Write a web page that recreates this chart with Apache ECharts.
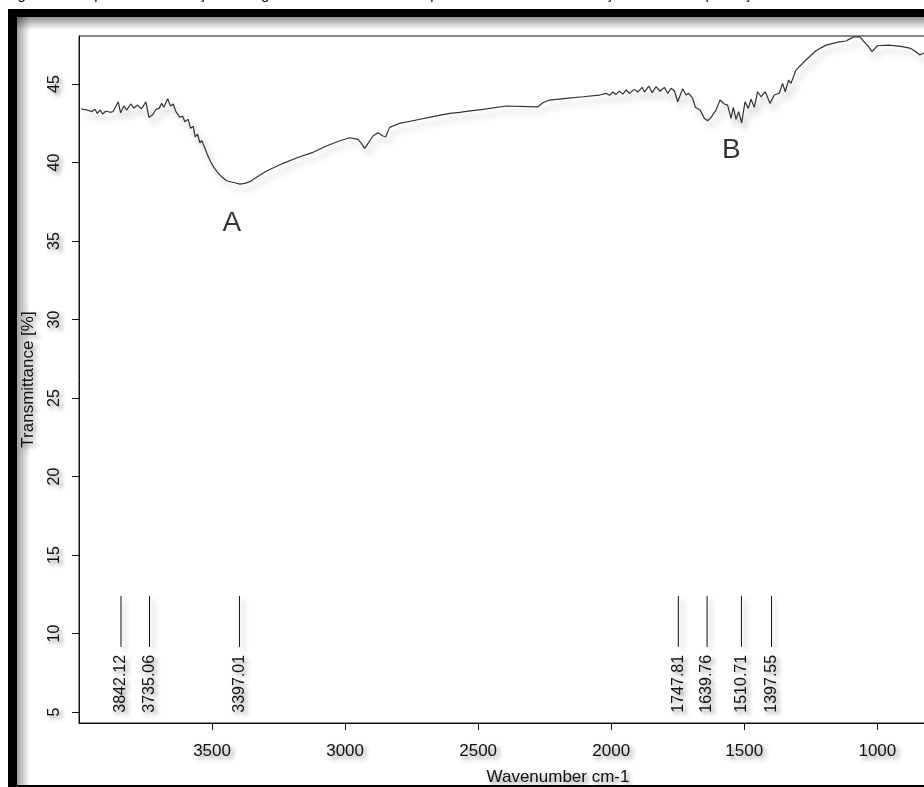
<!DOCTYPE html>
<html>
<head>
<meta charset="utf-8">
<script src="https://cdn.jsdelivr.net/npm/echarts@6/dist/echarts.min.js"></script>
<style>
  html, body { margin: 0; padding: 0; background: #fff; }
  #chart { width: 924px; height: 787px; }
</style>
</head>
<body>
<div id="chart"></div>
<script>
// FTIR spectrum: wavenumber (cm-1) vs transmittance (%)
const wavenumber = [
  3992.5, 3971.1, 3952.3, 3939.9, 3931.3, 3921.2, 3911.0, 3898.6, 3883.6, 3872.4,
  3852.5, 3843.5, 3831.1, 3820.9, 3805.9, 3793.5, 3781.1, 3764.6, 3748.5, 3737.2,
  3723.3, 3710.9, 3698.6, 3689.5, 3680.9, 3667.0, 3655.8, 3646.0, 3635.9, 3620.8,
  3610.7, 3602.1, 3589.7, 3580.7, 3570.9, 3563.4, 3554.4, 3545.8, 3538.3, 3528.1,
  3518.4, 3505.6, 3493.2, 3480.8, 3464.3, 3445.5, 3426.8, 3414.4, 3395.6, 3376.8,
  3358.1, 3332.9, 3295.4, 3233.1, 3170.4, 3120.4, 3070.1, 3020.2, 2982.7, 2951.5,
  2938.7, 2926.4, 2913.9, 2895.2, 2876.4, 2857.6, 2847.5, 2832.5, 2795.0, 2732.2,
  2670.0, 2607.2, 2569.7, 2544.6, 2482.2, 2394.4, 2275.8, 2257.0, 2231.9, 2169.2,
  2106.9, 2044.1, 2019.0, 2006.6, 1994.2, 1981.5, 1969.1, 1956.7, 1943.9, 1931.5,
  1912.8, 1900.4, 1883.9, 1875.2, 1859.1, 1846.3, 1831.3, 1816.3, 1800.2, 1787.8,
  1775.0, 1762.6, 1750.2, 1731.5, 1718.7, 1708.9, 1693.9, 1683.8, 1666.1, 1650.0,
  1637.6, 1624.8, 1606.1, 1591.1, 1574.9, 1562.5, 1549.8, 1541.1, 1531.0, 1521.2,
  1510.0, 1497.2, 1484.8, 1474.7, 1462.3, 1449.9, 1437.1, 1421.0, 1403.4, 1387.2,
  1368.4, 1356.1, 1345.9, 1333.5, 1324.5, 1305.8, 1268.2, 1230.7, 1193.1, 1143.2,
  1118.1, 1099.3, 1086.9, 1065.5, 1049.4, 1033.2, 1020.5, 999.4, 955.5, 905.6,
  874.0, 855.3, 840.2, 827.8, 805.0
];
const transmittance = [
  43.41, 43.36, 43.24, 43.39, 43.13, 43.34, 43.09, 43.28, 43.20, 43.24,
  43.87, 43.17, 43.60, 43.34, 43.73, 43.47, 43.66, 43.43, 43.87, 42.88,
  43.03, 43.39, 43.45, 43.77, 43.52, 44.06, 43.60, 43.73, 43.24, 42.88,
  42.96, 42.60, 42.75, 42.18, 42.32, 41.64, 41.80, 41.26, 41.39, 40.97,
  40.54, 40.05, 39.69, 39.41, 39.09, 38.84, 38.76, 38.71, 38.63, 38.67,
  38.78, 39.06, 39.46, 39.95, 40.37, 40.65, 41.05, 41.39, 41.58, 41.48,
  41.22, 40.90, 41.22, 41.69, 41.90, 41.69, 41.64, 42.24, 42.50, 42.71,
  42.92, 43.13, 43.20, 43.26, 43.39, 43.60, 43.55, 43.81, 43.98, 44.09,
  44.19, 44.30, 44.41, 44.28, 44.49, 44.34, 44.55, 44.36, 44.62, 44.41,
  44.66, 44.49, 44.79, 44.49, 44.87, 44.45, 44.83, 44.54, 44.79, 44.41,
  44.73, 44.57, 43.87, 44.70, 44.30, 44.41, 44.09, 43.52, 43.34, 42.82,
  42.66, 42.88, 43.34, 43.98, 43.73, 43.66, 42.82, 43.52, 42.75, 43.24,
  42.53, 43.87, 43.45, 44.03, 43.52, 44.51, 44.19, 44.51, 43.77, 44.30,
  44.41, 45.04, 44.51, 45.25, 45.04, 45.89, 46.53, 47.12, 47.48, 47.69,
  47.74, 47.91, 48.01, 48.01, 47.69, 47.38, 47.06, 47.44, 47.48, 47.38,
  47.27, 47.06, 46.85, 46.96, 46.97
];

// Picked peak positions
const peakWavenumbers = [3842.12, 3735.06, 3397.01, 1747.81, 1639.76, 1510.71, 1397.55];
const peakLabels = ['3842.12', '3735.06', '3397.01', '1747.81', '1639.76', '1510.71', '1397.55'];

// Band annotations
const bandNames = ['A', 'B'];
const bandWavenumbers = [3426, 1549];
const bandTransmittance = [36.1, 40.8];

// Axis ticks
const xTicks = [3500, 3000, 2500, 2000, 1500, 1000, 500];
const yTicks = [5, 10, 15, 20, 25, 30, 35, 40, 45];

const X_MIN = 400, X_MAX = 4000;
const Y_MIN = 4.3, Y_MAX = 48.06;
const MARK_TOP = 12.4, MARK_BOTTOM = 9.15;

const FONT = '"Liberation Sans", Arial, sans-serif';
const shadowText = {
  textShadowColor: 'rgba(0,0,0,0.45)',
  textShadowBlur: 4,
  textShadowOffsetX: 3,
  textShadowOffsetY: 3
};

const chart = echarts.init(document.getElementById('chart'), null, { renderer: 'canvas' });

const spectrum = wavenumber.map((w, i) => [w, transmittance[i]]);

chart.setOption({
  animation: false,
  backgroundColor: '#fff',
  grid: {
    left: 79, top: 36, bottom: 64, width: 958,
    containLabel: false,
    outerBoundsMode: 'none',
    show: true,
    borderColor: '#111',
    borderWidth: 1,
    backgroundColor: 'transparent'
  },
  graphic: [
    // caption above the framed panel
    {
      type: 'text', x: 5, y: 2, z: -1,
      style: {
        text: 'Figura 3 – Espectro de absorção na região do infravermelho do pó da casca de coco babaçu utilizado na produção das amostras',
        fontSize: 15, fontFamily: FONT, fill: '#000', verticalAlign: 'bottom'
      }
    },
    // frame shading
    {
      type: 'rect', z: -2, shape: { x: 17, y: 17, width: 907, height: 13 },
      style: { fill: new echarts.graphic.LinearGradient(0, 0, 0, 1, [
        { offset: 0, color: 'rgba(0,0,0,0.42)' }, { offset: 1, color: 'rgba(0,0,0,0)' }]) }
    },
    {
      type: 'rect', z: -2, shape: { x: 17, y: 17, width: 13, height: 768 },
      style: { fill: new echarts.graphic.LinearGradient(0, 0, 1, 0, [
        { offset: 0, color: 'rgba(0,0,0,0.38)' }, { offset: 1, color: 'rgba(0,0,0,0)' }]) }
    },
    // black frame
    { type: 'rect', z: -1, shape: { x: 8, y: 9, width: 916, height: 8 }, style: { fill: '#000' } },
    { type: 'rect', z: -1, shape: { x: 8, y: 9, width: 9, height: 778 }, style: { fill: '#000' } },
    { type: 'rect', z: -1, shape: { x: 8, y: 785, width: 916, height: 2 }, style: { fill: '#000' } }
  ],
  xAxis: {
    type: 'value',
    inverse: true,
    min: X_MIN, max: X_MAX,
    name: 'Wavenumber cm-1',
    nameLocation: 'middle',
    nameGap: 46,
    nameTextStyle: Object.assign({ fontSize: 17, fontFamily: FONT, color: '#111' }, shadowText),
    axisLine: { show: true, lineStyle: { color: '#111', width: 1 } },
    axisTick: { show: true, length: 7, customValues: xTicks, lineStyle: { color: '#111' } },
    axisLabel: Object.assign({
      customValues: xTicks, margin: 20, fontSize: 17, fontFamily: FONT, color: '#111',
      formatter: v => String(v)
    }, shadowText),
    splitLine: { show: false }
  },
  yAxis: {
    type: 'value',
    min: Y_MIN, max: Y_MAX,
    name: 'Transmittance [%]',
    nameLocation: 'middle',
    nameGap: 42,
    nameTextStyle: Object.assign({ fontSize: 17, fontFamily: FONT, color: '#111' }, shadowText),
    axisLine: { show: true, lineStyle: { color: '#111', width: 1 } },
    axisTick: { show: true, length: 7, customValues: yTicks, lineStyle: { color: '#111' } },
    axisLabel: Object.assign({
      customValues: yTicks, rotate: 90, margin: 16, fontSize: 16, fontFamily: FONT, color: '#111',
      formatter: v => String(v)
    }, shadowText),
    splitLine: { show: false }
  },
  series: [
    {
      type: 'line',
      data: spectrum,
      showSymbol: false,
      symbol: 'none',
      silent: true,
      lineStyle: {
        color: '#333', width: 1.2,
        shadowColor: 'rgba(0,0,0,0.3)', shadowBlur: 6, shadowOffsetX: 4, shadowOffsetY: 6
      },
      z: 3
    },
    {
      type: 'custom',
      data: peakWavenumbers.map((w, i) => [w, i]),
      silent: true,
      renderItem: function (params, api) {
        const w = api.value(0);
        const idx = api.value(1);
        const p1 = api.coord([w, MARK_TOP]);
        const p2 = api.coord([w, MARK_BOTTOM]);
        return {
          type: 'group',
          children: [
            {
              type: 'line',
              shape: { x1: p1[0], y1: p1[1], x2: p2[0], y2: p2[1] },
              style: {
                stroke: '#111', lineWidth: 1,
                shadowColor: 'rgba(0,0,0,0.35)', shadowBlur: 5, shadowOffsetX: 4, shadowOffsetY: 4
              }
            },
            {
              type: 'text',
              x: p2[0], y: p2[1] + 8,
              rotation: Math.PI / 2,
              style: Object.assign({
                text: peakLabels[idx],
                fontSize: 16, fontFamily: FONT, fill: '#111',
                align: 'right', verticalAlign: 'middle'
              }, shadowText)
            }
          ]
        };
      },
      z: 4
    },
    {
      type: 'scatter',
      data: bandNames.map((n, i) => ({ name: n, value: [bandWavenumbers[i], bandTransmittance[i]] })),
      symbolSize: 0,
      silent: true,
      label: {
        show: true,
        position: 'inside',
        formatter: '{b}',
        fontSize: 28,
        fontFamily: FONT,
        color: '#000'
      },
      z: 5
    }
  ]
});
</script>
</body>
</html>
